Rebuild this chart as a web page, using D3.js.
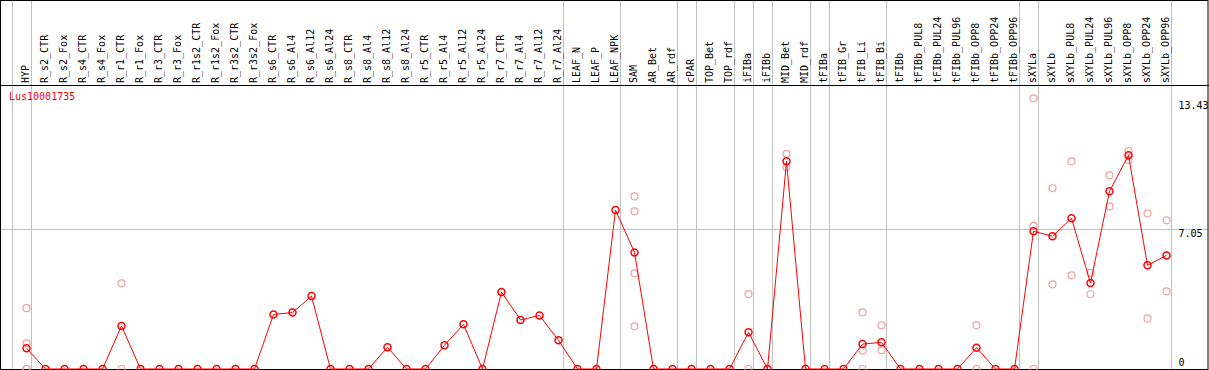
<!DOCTYPE html>
<html>
<head>
<meta charset="utf-8">
<script src="https://cdn.jsdelivr.net/npm/d3@7"></script>
<style>
  body { margin: 0; background: #fff; }
  svg { display: block; }
  text { font-family: "DejaVu Sans Mono", monospace; font-size: 10px; }
</style>
</head>
<body>
<div id="chart"></div>
<script>
const categories = ["HYP", "R_s2_CTR", "R_s2_Fox", "R_s4_CTR", "R_s4_Fox", "R_r1_CTR", "R_r1_Fox",
    "R_r3_CTR", "R_r3_Fox", "R_r1s2_CTR", "R_r1s2_Fox", "R_r3s2_CTR", "R_r3s2_Fox",
    "R_s6_CTR", "R_s6_Al4", "R_s6_Al12", "R_s6_Al24", "R_s8_CTR", "R_s8_Al4", "R_s8_Al12", "R_s8_Al24",
    "R_r5_CTR", "R_r5_Al4", "R_r5_Al12", "R_r5_Al24", "R_r7_CTR", "R_r7_Al4", "R_r7_Al12", "R_r7_Al24",
    "LEAF_N", "LEAF_P", "LEAF_NPK", "SAM", "AR_Bet", "AR_rdf", "cPAR", "TOP_Bet", "TOP_rdf",
    "iFIBa", "iFIBb", "MID_Bet", "MID_rdf", "tFIBa", "tFIB_Gr", "tFIB_Li", "tFIB_Bi", "tFIBb",
    "tFIBb_PUL8", "tFIBb_PUL24", "tFIBb_PUL96", "tFIBb_OPP8", "tFIBb_OPP24", "tFIBb_OPP96",
    "sXYLa", "sXYLb", "sXYLb_PUL8", "sXYLb_PUL24", "sXYLb_PUL96", "sXYLb_OPP8", "sXYLb_OPP24", "sXYLb_OPP96"];

const means = [1.04, 0, 0, 0, 0, 2.16, 0, 0, 0, 0, 0, 0, 0,
    2.74, 2.83, 3.66, 0, 0, 0, 1.09, 0, 0, 1.19, 2.24, 0, 3.86, 2.46, 2.69, 1.44,
    0, 0, 7.98, 5.85, 0, 0, 0, 0, 0, 1.84, 0, 10.42, 0, 0, 0, 1.25, 1.34, 0,
    0, 0, 0, 1.07, 0, 0, 6.91, 6.66, 7.56, 4.31, 8.92, 10.72, 5.2, 5.7];

// replicate values, keyed by category
const replicates = [
    ["HYP", [3.05, 1.29, 0, 0]],
    ["R_r1_CTR", [4.3, 0]],
    ["SAM", [8.66, 7.91, 4.8, 2.14]],
    ["iFIBa", [3.76, 0]],
    ["MID_Bet", [10.79, 10.12]],
    ["tFIB_Li", [2.84, 0.92, 0]],
    ["tFIB_Bi", [2.19, 0.94]],
    ["tFIBb_OPP8", [2.19, 0]],
    ["sXYLa", [13.58, 7.18, 0]],
    ["sXYLb", [9.07, 4.25]],
    ["sXYLb_PUL8", [10.42, 4.7]],
    ["sXYLb_PUL24", [4.82, 3.75]],
    ["sXYLb_PUL96", [9.72, 8.16]],
    ["sXYLb_OPP8", [10.94, 10.49]],
    ["sXYLb_OPP24", [7.81, 2.54]],
    ["sXYLb_OPP96", [7.46, 3.9]]
];

// groups end after these categories
const groupEnds = ["HYP", "R_r7_Al24", "LEAF_NPK", "AR_rdf", "cPAR", "TOP_rdf", "iFIBa", "iFIBb",
    "MID_rdf", "tFIBa", "tFIB_Bi", "tFIBb_OPP96", "sXYLa", "sXYLb_OPP96"];

const yTicks = [0, 7.05, 13.43];
const geneName = "Lus10001735";

const width = 1209;
const height = 370;
const headerBottom = 85;
const plotBottom = 369;

const x = d3.scalePoint()
    .domain(categories)
    .range([26.5, 1166.5]);

const step = x.step();

const y = d3.scaleLinear()
    .domain([0, 14.1])
    .range([plotBottom, 88]);

const svg = d3.select("#chart")
    .append("svg")
    .attr("width", width)
    .attr("height", height);

// horizontal grid line at the middle tick
svg.append("line")
    .attr("x1", 0).attr("x2", width)
    .attr("y1", Math.round(y(7.05)) + 0.5).attr("y2", Math.round(y(7.05)) + 0.5)
    .style("stroke", "#c0c0c0");

// vertical group separators
const sepX = [x(categories[0]) - step + 4].concat(groupEnds.map(c => x(c) + 4));
svg.selectAll(".sep")
    .data(sepX)
    .enter().append("line")
    .attr("class", "sep")
    .attr("x1", d => Math.round(d) + 0.5).attr("x2", d => Math.round(d) + 0.5)
    .attr("y1", 0).attr("y2", height)
    .style("stroke", "#c0c0c0");

// header / frame
svg.append("line")
    .attr("x1", 0).attr("x2", width)
    .attr("y1", headerBottom + 0.5).attr("y2", headerBottom + 0.5)
    .style("stroke", "#000");

svg.append("rect")
    .attr("x", 0.5).attr("y", 0.5)
    .attr("width", width - 1.5).attr("height", plotBottom)
    .style("fill", "none")
    .style("stroke", "#000");

// category labels, rotated
svg.selectAll(".cat")
    .data(categories)
    .enter().append("text")
    .attr("class", "cat")
    .attr("transform", d => "translate(" + (x(d) + 2.5) + "," + (headerBottom - 2) + ") rotate(-90)")
    .style("fill", "#000")
    .text(d => d);

// y tick labels on the right
svg.selectAll(".ytick")
    .data(yTicks)
    .enter().append("text")
    .attr("class", "ytick")
    .attr("x", 1178.5)
    .attr("y", d => d === 0 ? plotBottom - 3 : y(d) + 8)
    .style("fill", "#000")
    .text(d => d === 0 ? "0" : d.toFixed(2));

svg.append("text")
    .attr("x", 9)
    .attr("y", 99.5)
    .style("fill", "#ff0000")
    .text(geneName);

// replicate points
const repPoints = [];
replicates.forEach(([cat, vals]) => vals.forEach(v => repPoints.push({ cat: cat, v: v })));

svg.selectAll(".rep")
    .data(repPoints)
    .enter().append("circle")
    .attr("class", "rep")
    .attr("cx", d => x(d.cat))
    .attr("cy", d => y(d.v))
    .attr("r", 3.5)
    .style("fill", "none")
    .style("stroke", "#f0a0a0")
    .style("stroke-width", 1.2);

// mean line
const meanData = categories.map((c, i) => ({ cat: c, v: means[i] }));

const line = d3.line()
    .x(d => x(d.cat))
    .y(d => y(d.v));

svg.append("path")
    .datum(meanData)
    .attr("d", line)
    .style("fill", "none")
    .style("stroke", "#ff0000")
    .style("stroke-width", 1);

svg.selectAll(".mean")
    .data(meanData)
    .enter().append("circle")
    .attr("class", "mean")
    .attr("cx", d => x(d.cat))
    .attr("cy", d => y(d.v))
    .attr("r", 3.5)
    .style("fill", "none")
    .style("stroke", "#ff0000")
    .style("stroke-width", 1.5);
</script>
</body>
</html>
